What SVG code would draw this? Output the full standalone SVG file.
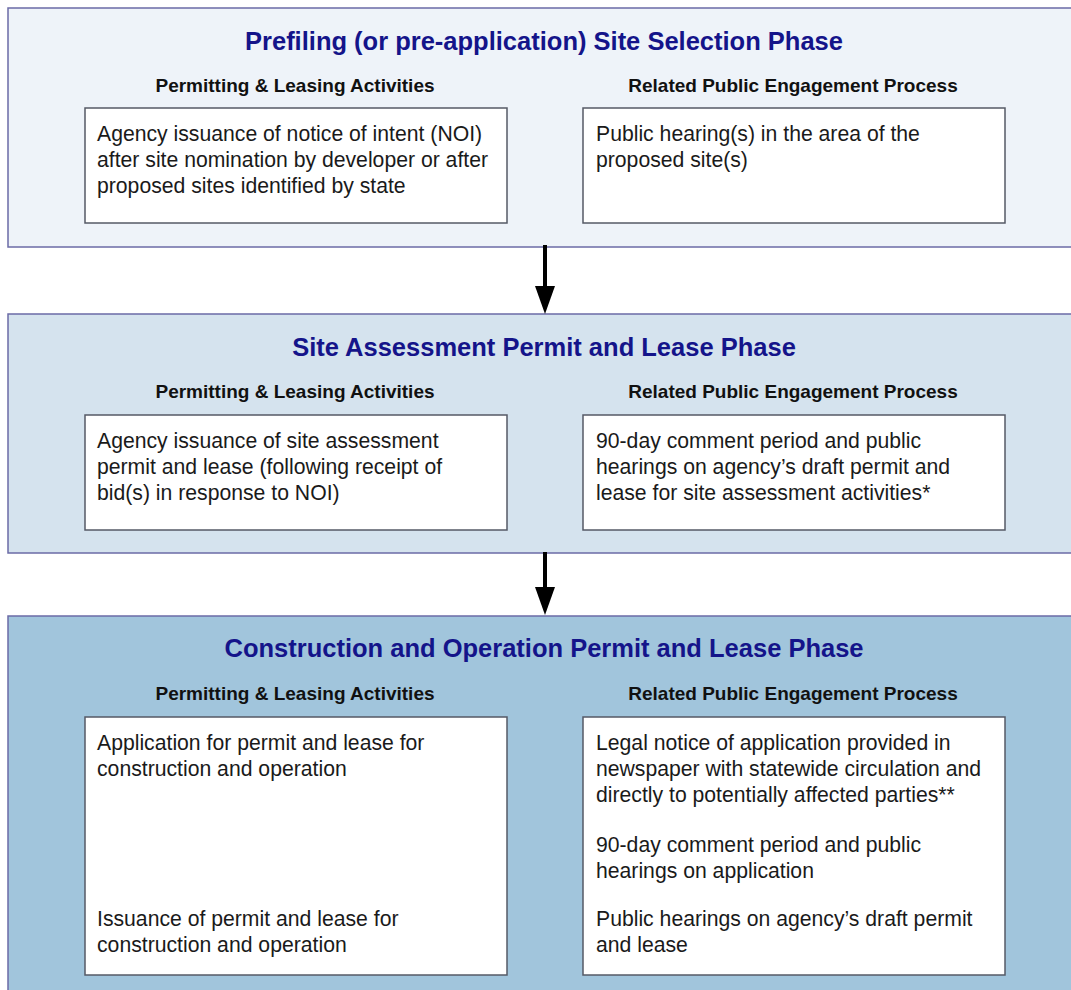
<svg xmlns="http://www.w3.org/2000/svg" width="1071" height="990" viewBox="0 0 1071 990">
<defs>
<style>
.panel{stroke:#6b6ba6;stroke-width:1.5}
.p1{fill:#eef3f9}.p2{fill:#d5e3ee}.p3{fill:#a1c5dc}
.box{fill:#fff;stroke:#555a66;stroke-width:1.5}
.title{font-family:"Liberation Sans",Arial,sans-serif;font-size:25.5px;font-weight:bold;fill:#14148a;text-anchor:middle}
.sub{font-family:"Liberation Sans",Arial,sans-serif;font-size:19px;font-weight:bold;fill:#111;text-anchor:middle}
.txt{font-family:"Liberation Sans",Arial,sans-serif;font-size:21.2px;fill:#1a1a1a}
.conn{stroke:#000;stroke-width:4;fill:none}
</style>
<marker id="ah" markerUnits="userSpaceOnUse" markerWidth="28" markerHeight="20" refX="0" refY="10" orient="auto" viewBox="0 0 28 20">
<path d="M0,0 L28,10 L0,20 Z" fill="#000"/>
</marker>
</defs>
<rect width="1071" height="990" fill="#fff"/>
<g id="phase1">
<rect class="panel p1" x="8" y="8" width="1075" height="239"/>
<text class="title" x="544" y="50">Prefiling (or pre-application) Site Selection Phase</text>
<text class="sub" x="295" y="92">Permitting &amp; Leasing Activities</text>
<text class="sub" x="793" y="92">Related Public Engagement Process</text>
<g id="p1-left">
<rect class="box" x="85" y="108" width="422" height="115"/>
<text class="txt" x="97" y="141">Agency issuance of notice of intent (NOI)</text>
<text class="txt" x="97" y="167">after site nomination by developer or after</text>
<text class="txt" x="97" y="193">proposed sites identified by state</text>
</g>
<g id="p1-right">
<rect class="box" x="583" y="108" width="422" height="115"/>
<text class="txt" x="596" y="141">Public hearing(s) in the area of the</text>
<text class="txt" x="596" y="167">proposed site(s)</text>
</g>
</g>
<g id="phase2">
<rect class="panel p2" x="8" y="314" width="1075" height="239"/>
<text class="title" x="544" y="356">Site Assessment Permit and Lease Phase</text>
<text class="sub" x="295" y="398">Permitting &amp; Leasing Activities</text>
<text class="sub" x="793" y="398">Related Public Engagement Process</text>
<g id="p2-left">
<rect class="box" x="85" y="415" width="422" height="115"/>
<text class="txt" x="97" y="448">Agency issuance of site assessment</text>
<text class="txt" x="97" y="474">permit and lease (following receipt of</text>
<text class="txt" x="97" y="500">bid(s) in response to NOI)</text>
</g>
<g id="p2-right">
<rect class="box" x="583" y="415" width="422" height="115"/>
<text class="txt" x="596" y="448">90-day comment period and public</text>
<text class="txt" x="596" y="474">hearings on agency’s draft permit and</text>
<text class="txt" x="596" y="500">lease for site assessment activities*</text>
</g>
</g>
<g id="phase3">
<rect class="panel p3" x="8" y="616" width="1075" height="390"/>
<text class="title" x="544" y="657">Construction and Operation Permit and Lease Phase</text>
<text class="sub" x="295" y="700">Permitting &amp; Leasing Activities</text>
<text class="sub" x="793" y="700">Related Public Engagement Process</text>
<g id="p3-left">
<rect class="box" x="85" y="717" width="422" height="258"/>
<text class="txt" x="97" y="750">Application for permit and lease for</text>
<text class="txt" x="97" y="776">construction and operation</text>
<text class="txt" x="97" y="926">Issuance of permit and lease for</text>
<text class="txt" x="97" y="952">construction and operation</text>
</g>
<g id="p3-right">
<rect class="box" x="583" y="717" width="422" height="258"/>
<text class="txt" x="596" y="750">Legal notice of application provided in</text>
<text class="txt" x="596" y="776">newspaper with statewide circulation and</text>
<text class="txt" x="596" y="802">directly to potentially affected parties**</text>
<text class="txt" x="596" y="852">90-day comment period and public</text>
<text class="txt" x="596" y="878">hearings on application</text>
<text class="txt" x="596" y="926">Public hearings on agency’s draft permit</text>
<text class="txt" x="596" y="952">and lease</text>
</g>
</g>
<g id="connectors">
<line class="conn" x1="545" y1="245" x2="545" y2="286" marker-end="url(#ah)"/>
<line class="conn" x1="545" y1="552" x2="545" y2="587" marker-end="url(#ah)"/>
</g>
</svg>
